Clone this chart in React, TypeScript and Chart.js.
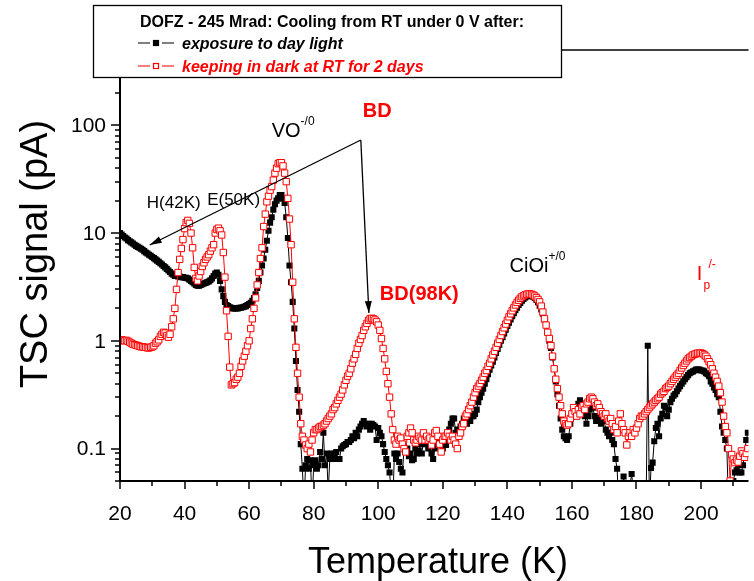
import React, { useEffect, useRef } from "react";
import { Chart, registerables } from "chart.js";

Chart.register(...registerables);

// ---- data: [temperature K, TSC signal pA] ----
const exposureDayLight: [number, number][] = [
  [20,10.0],[20.5,9.7],[21,9.4],[21.5,9.1],[22,8.9],[22.5,8.6],[23,8.4],[23.5,8.2],[24,8.0],[24.5,7.8],
  [25,7.6],[25.5,7.45],[26,7.3],[26.5,7.15],[27,7.0],[27.5,6.8],[28,6.6],[28.5,6.45],[29,6.3],[29.5,6.15],
  [30,6.0],[30.5,5.85],[31,5.7],[31.5,5.55],[32,5.4],[32.5,5.25],[33,5.1],[33.5,4.95],[34,4.8],[34.5,4.65],
  [35,4.5],[35.5,4.35],[36,4.2],[36.5,4.1],[37,4.0],[37.5,4.0],[38,3.95],[38.5,3.95],[39,3.9],[39.5,3.9],
  [40,3.85],[40.5,3.85],[41,3.8],[41.5,3.7],[42,3.6],[42.5,3.5],[43,3.4],[43.5,3.3],[44,3.25],[44.5,3.25],
  [45,3.3],[45.5,3.35],[46,3.4],[46.5,3.45],[47,3.5],[47.5,3.55],[48,3.65],[48.5,3.8],[49,4.0],[49.5,4.2],
  [50,4.3],[50.5,4.1],[51,3.6],[51.5,3.0],[52,2.6],[52.5,2.3],[53,2.15],[53.5,2.1],[54,2.05],[54.5,2.02],
  [55,2.0],[55.5,2.0],[56,2.0],[56.5,2.0],[57,2.02],[57.5,2.03],[58,2.05],[58.5,2.07],[59,2.1],[59.5,2.15],
  [60,2.2],[60.5,2.25],[61,2.35],[61.5,2.5],[62,2.7],[62.5,3.1],[63,3.6],[63.5,4.3],[64,5.0],[64.5,5.8],
  [65,7.0],[65.5,8.5],[66,10.5],[66.5,12.5],[67,14],[67.5,16.5],[68,18.5],[68.5,20],[69,21],[69.5,22.5],
  [70,22.5],[70.5,21],[71,19],[71.5,14],[72,9],[72.5,5],[73,3.5],[73.5,2.3],[74,1.3],[74.5,0.65],
  [75,0.35],[75.5,0.22],[76,0.11],[76.5,0.065],[77,0.03],[77.5,0.07],[78,0.08],[78.5,0.065],[79,0.078],[79.5,0.03],
  [80,0.07],[80.5,0.078],[81,0.065],[81.5,0.07],[82,0.093],[82.5,0.08],[83,0.14],[83.5,0.07],[84,0.09],[84.5,0.04],
  [85,0.08],[85.5,0.09],[86,0.08],[86.5,0.09],[87,0.093],[87.5,0.08],[88,0.08],[88.5,0.1],[89,0.105],[89.5,0.108],
  [90,0.11],[90.5,0.115],[91,0.115],[91.5,0.12],[92,0.13],[92.5,0.125],[93,0.14],[93.5,0.13],[94,0.15],[94.5,0.16],
  [95,0.17],[95.5,0.18],[96,0.17],[96.5,0.16],[97,0.17],[97.5,0.15],[98,0.17],[98.5,0.165],[99,0.16],[99.5,0.12],
  [100,0.155],[100.5,0.14],[101,0.13],[101.5,0.11],[102,0.093],[102.5,0.08],[103,0.07],[103.5,0.06],[104,0.04],[104.5,0.03],
  [105,0.09],[105.5,0.08],[106,0.09],[106.5,0.075],[107,0.065],[107.5,0.06],[108,0.1],[108.5,0.095],[109,0.1],[109.5,0.085],
  [110,0.09],[110.5,0.078],[111,0.08],[111.5,0.1],[112,0.09],[112.5,0.095],[113,0.11],[113.5,0.09],[114,0.12],[114.5,0.11],
  [115,0.12],[115.5,0.1],[116,0.11],[116.5,0.09],[117,0.08],[117.5,0.1],[118,0.12],[118.5,0.13],[119,0.12],[119.5,0.11],
  [120,0.1],[120.5,0.115],[121,0.108],[121.5,0.13],[122,0.15],[122.5,0.17],[123,0.19],[123.5,0.19],[124,0.14],[124.5,0.15],
  [125,0.147],[125.5,0.16],[126,0.17],[126.5,0.19],[127,0.17],[127.5,0.17],[128,0.2],[128.5,0.18],[129,0.2],[129.5,0.2],
  [130,0.21],[130.5,0.23],[131,0.27],[131.5,0.3],[132,0.33],[132.5,0.36],[133,0.4],[133.5,0.44],[134,0.49],[134.5,0.54],
  [135,0.59],[135.5,0.64],[136,0.7],[136.5,0.77],[137,0.84],[137.5,0.92],[138,1.0],[138.5,1.08],[139,1.17],[139.5,1.27],
  [140,1.37],[140.5,1.47],[141,1.58],[141.5,1.69],[142,1.8],[142.5,1.92],[143,2.03],[143.5,2.15],[144,2.25],[144.5,2.35],
  [145,2.44],[145.5,2.52],[146,2.58],[146.5,2.63],[147,2.65],[147.5,2.62],[148,2.57],[148.5,2.5],[149,2.4],[149.5,2.28],
  [150,2.12],[150.5,1.95],[151,1.78],[151.5,1.58],[152,1.4],[152.5,1.2],[153,1.0],[153.5,0.86],[154,0.7],[154.5,0.55],
  [155,0.42],[155.5,0.32],[156,0.25],[156.5,0.19],[157,0.15],[157.5,0.13],[158,0.125],[158.5,0.12],[159,0.13],[159.5,0.17],
  [160,0.21],[160.5,0.2],[161,0.23],[161.5,0.22],[162,0.26],[162.5,0.28],[163,0.25],[163.5,0.22],[164,0.2],[164.5,0.17],
  [165,0.2],[165.5,0.23],[166,0.25],[166.5,0.24],[167,0.2],[167.5,0.18],[168,0.19],[168.5,0.2],[169,0.17],[169.5,0.19],
  [170,0.18],[170.5,0.15],[171,0.14],[171.5,0.13],[172,0.14],[172.5,0.12],[173,0.11],[173.5,0.08],[174,0.065],[174.5,0.03],
  [175.5,0.03],[176,0.055],[177,0.03],[178.5,0.058],[179.5,0.03],[183,0.03],[183.5,0.9],[184,0.03],[184.5,0.066],[185,0.074],
  [185.5,0.117],[186,0.155],[186.5,0.17],[187,0.13],[187.5,0.19],[188,0.21],[188.5,0.25],[189,0.24],[189.5,0.2],[190,0.23],
  [190.5,0.27],[191,0.29],[191.5,0.31],[192,0.32],[192.5,0.34],[193,0.36],[193.5,0.38],[194,0.4],[194.5,0.42],[195,0.44],
  [195.5,0.46],[196,0.48],[196.5,0.5],[197,0.51],[197.5,0.52],[198,0.53],[198.5,0.54],[199,0.54],[199.5,0.54],[200,0.53],
  [200.5,0.53],[201,0.52],[201.5,0.5],[202,0.49],[202.5,0.47],[203,0.42],[203.5,0.4],[204,0.37],[204.5,0.35],[205,0.32],
  [205.5,0.3],[206,0.22],[206.5,0.16],[207,0.14],[207.5,0.12],[208,0.1],[208.5,0.03],[209,0.03],[210,0.05],[210.5,0.06],
  [211,0.063],[211.5,0.07],[212,0.06],[212.5,0.06],[213,0.07],[213.5,0.09],[214,0.12],[214.5,0.14],
];

const keepingDark: [number, number][] = [
  [20,1.0],[20.5,1.02],[21,1.01],[21.5,1.0],[22,1.01],[22.5,0.99],[23,0.97],[23.5,0.95],[24,0.93],[24.5,0.92],
  [25,0.91],[25.5,0.9],[26,0.89],[26.5,0.88],[27,0.88],[27.5,0.87],[28,0.87],[28.5,0.86],[29,0.86],[29.5,0.87],
  [30,0.88],[30.5,0.9],[31,0.95],[31.5,0.98],[32,1.02],[32.5,1.1],[33,1.15],[33.5,1.2],[34,1.18],[34.5,1.12],
  [35,1.08],[35.5,1.15],[36,1.35],[36.5,1.6],[37,2.0],[37.5,3.0],[38,4.3],[38.5,5.7],[39,7.2],[39.5,8.7],
  [40,11],[40.5,12.5],[41,13.1],[41.5,12.3],[42,10],[42.5,7.3],[43,4.8],[43.5,3.8],[44,3.6],[44.5,4.0],
  [45,4.4],[45.5,4.9],[46,5.3],[46.5,5.7],[47,6.0],[47.5,6.3],[48,6.8],[48.5,7.3],[49,7.8],[49.5,10],
  [50,10.8],[50.5,11.1],[51,10.5],[51.5,9.6],[52,6.6],[52.5,3.9],[53,1.9],[53.5,1.1],[54,0.57],[54.5,0.39],
  [55,0.4],[55.5,0.41],[56,0.44],[56.5,0.46],[57,0.5],[57.5,0.58],[58,0.65],[58.5,0.72],[59,0.8],[59.5,0.9],
  [60,1.0],[60.5,1.3],[61,1.6],[61.5,2.0],[62,2.5],[62.5,3.3],[63,4.3],[63.5,5.8],[64,7.3],[64.5,11.5],
  [65,15],[65.5,19.5],[66,22],[66.5,25],[67,27],[67.5,31],[68,36],[68.5,40],[69,44],[69.5,45],
  [70,45],[70.5,42],[71,36],[71.5,30],[72,21],[72.5,13.5],[73,7.8],[73.5,3.5],[74,1.6],[74.5,0.87],
  [75,0.5],[75.5,0.3],[76,0.17],[76.5,0.13],[77,0.12],[77.5,0.108],[78,0.1],[78.5,0.11],[79,0.093],[79.5,0.12],
  [80,0.14],[80.5,0.15],[81,0.15],[81.5,0.155],[82,0.16],[82.5,0.16],[83,0.165],[83.5,0.17],[84,0.18],[84.5,0.19],
  [85,0.2],[85.5,0.21],[86,0.23],[86.5,0.24],[87,0.26],[87.5,0.28],[88,0.3],[88.5,0.32],[89,0.35],[89.5,0.39],
  [90,0.43],[90.5,0.47],[91,0.5],[91.5,0.55],[92,0.62],[92.5,0.68],[93,0.75],[93.5,0.85],[94,0.95],[94.5,1.03],
  [95,1.12],[95.5,1.25],[96,1.35],[96.5,1.45],[97,1.55],[97.5,1.6],[98,1.62],[98.5,1.6],[99,1.56],[99.5,1.5],
  [100,1.4],[100.5,1.25],[101,1.05],[101.5,0.85],[102,0.68],[102.5,0.52],[103,0.4],[103.5,0.3],[104,0.21],[104.5,0.15],
  [105,0.12],[105.5,0.11],[106,0.13],[106.5,0.12],[107,0.125],[107.5,0.11],[108,0.1],[108.5,0.093],[109,0.13],[109.5,0.14],
  [110,0.155],[110.5,0.14],[111,0.12],[111.5,0.113],[112,0.12],[112.5,0.13],[113,0.125],[113.5,0.12],[114,0.14],[114.5,0.12],
  [115,0.13],[115.5,0.12],[116,0.125],[116.5,0.108],[117,0.12],[117.5,0.14],[118,0.147],[118.5,0.13],[119,0.11],[119.5,0.093],
  [120,0.12],[120.5,0.13],[121,0.13],[121.5,0.14],[122,0.13],[122.5,0.12],[123,0.13],[123.5,0.12],[124,0.11],[124.5,0.1],
  [125,0.13],[125.5,0.14],[126,0.16],[126.5,0.17],[127,0.2],[127.5,0.21],[128,0.23],[128.5,0.25],[129,0.27],[129.5,0.3],
  [130,0.33],[130.5,0.36],[131,0.38],[131.5,0.4],[132,0.43],[132.5,0.46],[133,0.5],[133.5,0.53],[134,0.58],[134.5,0.62],
  [135,0.68],[135.5,0.74],[136,0.8],[136.5,0.87],[137,0.95],[137.5,1.03],[138,1.12],[138.5,1.22],[139,1.32],[139.5,1.43],
  [140,1.55],[140.5,1.67],[141,1.78],[141.5,1.9],[142,2.02],[142.5,2.15],[143,2.27],[143.5,2.38],[144,2.48],[144.5,2.56],
  [145,2.62],[145.5,2.67],[146,2.7],[146.5,2.72],[147,2.72],[147.5,2.7],[148,2.66],[148.5,2.6],[149,2.52],[149.5,2.42],
  [150,2.3],[150.5,2.1],[151,1.85],[151.5,1.6],[152,1.4],[152.5,1.2],[153,1.05],[153.5,0.9],[154,0.72],[154.5,0.55],
  [155,0.44],[155.5,0.36],[156,0.3],[156.5,0.25],[157,0.21],[157.5,0.18],[158,0.17],[158.5,0.165],[159,0.17],[159.5,0.19],
  [160,0.21],[160.5,0.24],[161,0.22],[161.5,0.2],[162,0.23],[162.5,0.21],[163,0.24],[163.5,0.25],[164,0.23],[164.5,0.26],
  [165,0.27],[165.5,0.29],[166,0.3],[166.5,0.29],[167,0.27],[167.5,0.25],[168,0.26],[168.5,0.24],[169,0.22],[169.5,0.21],
  [170,0.2],[170.5,0.21],[171,0.19],[171.5,0.18],[172,0.19],[172.5,0.17],[173,0.15],[173.5,0.16],[174,0.14],[174.5,0.18],
  [175,0.21],[175.5,0.17],[176,0.15],[176.5,0.14],[177,0.108],[177.5,0.13],[178,0.14],[178.5,0.13],[179,0.15],[179.5,0.14],
  [180,0.155],[180.5,0.17],[181,0.19],[181.5,0.2],[182,0.2],[182.5,0.21],[183,0.22],[183.5,0.23],[184,0.24],[184.5,0.25],
  [185,0.26],[185.5,0.27],[186,0.28],[186.5,0.29],[187,0.3],[187.5,0.32],[188,0.33],[188.5,0.34],[189,0.36],[189.5,0.37],
  [190,0.38],[190.5,0.4],[191,0.42],[191.5,0.44],[192,0.46],[192.5,0.48],[193,0.5],[193.5,0.53],[194,0.56],[194.5,0.59],
  [195,0.62],[195.5,0.65],[196,0.68],[196.5,0.7],[197,0.72],[197.5,0.74],[198,0.75],[198.5,0.76],[199,0.77],[199.5,0.77],
  [200,0.77],[200.5,0.76],[201,0.74],[201.5,0.72],[202,0.68],[202.5,0.64],[203,0.6],[203.5,0.55],[204,0.5],[204.5,0.46],
  [205,0.42],[205.5,0.38],[206,0.33],[206.5,0.27],[207,0.2],[207.5,0.16],[208,0.14],[208.5,0.1],[209,0.05],[209.5,0.088],
  [210,0.08],[210.5,0.074],[211,0.078],[211.5,0.075],[212,0.085],[212.5,0.095],[213,0.09],[213.5,0.083],[214,0.09],[214.5,0.1],
];

const xMajorTicks = [20, 40, 60, 80, 100, 120, 140, 160, 180, 200];
const xMinorTicks = [30, 50, 70, 90, 110, 130, 150, 170, 190, 210];
const yMajorTicks = [0.1, 1, 10, 100];
const yMajorLabels = ["0.1", "1", "10", "100"];
const yMinorTicks = [
  0.05, 0.06, 0.07, 0.08, 0.09, 0.2, 0.3, 0.4, 0.5, 0.6, 0.7, 0.8, 0.9,
  2, 3, 4, 5, 6, 7, 8, 9, 20, 30, 40, 50, 60, 70, 80, 90, 200, 300, 400,
];

const legendTitle = "DOFZ - 245 Mrad: Cooling from RT under 0 V after:";
const seriesNames = ["exposure to day light", "keeping in dark at RT for 2 days"];

// annotation labels anchored at (temperature, signal)
const annotations = [
  { text: "H(42K)", t: 28.3, v: 17.1, size: 17, bold: false, color: "#000", sup: "", sub: "" },
  { text: "E(50K)", t: 47.0, v: 18.2, size: 17, bold: false, color: "#000", sup: "", sub: "" },
  { text: "VO", t: 67.0, v: 78, size: 20, bold: false, color: "#000", sup: "-/0", sub: "" },
  { text: "BD", t: 95.2, v: 119, size: 20, bold: true, color: "#ff0000", sup: "", sub: "" },
  { text: "BD(98K)", t: 100.5, v: 2.39, size: 20, bold: true, color: "#ff0000", sup: "", sub: "" },
  { text: "CiOi", t: 140.7, v: 4.35, size: 20, bold: false, color: "#000", sup: "+/0", sub: "" },
  { text: "I", t: 198.7, v: 3.67, size: 20, bold: false, color: "#ff0000", sup: "/-", sub: "p" },
];
const arrowApex = { t: 94.6, v: 73 };
const arrowTips = [
  { t: 29.2, v: 7.75 },
  { t: 97.1, v: 1.81 },
];

const FONT = '"Liberation Sans", Arial, Helvetica, sans-serif';

function arrow(ctx: CanvasRenderingContext2D, x0: number, y0: number, x1: number, y1: number) {
  ctx.beginPath();
  ctx.moveTo(x0, y0);
  ctx.lineTo(x1, y1);
  ctx.stroke();
  const a = Math.atan2(y1 - y0, x1 - x0);
  const L = 12, W = 3.5;
  ctx.beginPath();
  ctx.moveTo(x1, y1);
  ctx.lineTo(x1 - L * Math.cos(a) + W * Math.sin(a), y1 - L * Math.sin(a) - W * Math.cos(a));
  ctx.lineTo(x1 - L * Math.cos(a) - W * Math.sin(a), y1 - L * Math.sin(a) + W * Math.cos(a));
  ctx.closePath();
  ctx.fill();
}

const overlayPlugin = {
  id: "overlay",
  afterDraw(chart: any) {
    const ctx: CanvasRenderingContext2D = chart.ctx;
    const { left, right, top, bottom } = chart.chartArea;
    const xs = chart.scales.x;
    const ys = chart.scales.y;
    ctx.save();
    ctx.strokeStyle = "#000";
    ctx.fillStyle = "#000";

    // axes
    ctx.lineWidth = 2;
    ctx.beginPath();
    ctx.moveTo(left, top);
    ctx.lineTo(left, bottom);
    ctx.lineTo(right, bottom);
    ctx.stroke();
    ctx.lineWidth = 1.5;
    ctx.beginPath();
    ctx.moveTo(left, top);
    ctx.lineTo(right, top);
    ctx.stroke();

    // ticks
    ctx.lineWidth = 1.5;
    ctx.beginPath();
    xMajorTicks.forEach((t) => {
      const x = Math.round(xs.getPixelForValue(t));
      ctx.moveTo(x, bottom);
      ctx.lineTo(x, bottom + 8);
    });
    xMinorTicks.forEach((t) => {
      const x = Math.round(xs.getPixelForValue(t));
      ctx.moveTo(x, bottom);
      ctx.lineTo(x, bottom + 5);
    });
    yMajorTicks.forEach((v) => {
      const y = Math.round(ys.getPixelForValue(v));
      ctx.moveTo(left - 9, y);
      ctx.lineTo(left, y);
    });
    yMinorTicks.forEach((v) => {
      const y = Math.round(ys.getPixelForValue(v));
      ctx.moveTo(left - 5, y);
      ctx.lineTo(left, y);
    });
    ctx.stroke();

    // tick labels
    ctx.font = `21px ${FONT}`;
    ctx.textAlign = "center";
    ctx.textBaseline = "alphabetic";
    xMajorTicks.forEach((t) => {
      ctx.fillText(String(t), xs.getPixelForValue(t), bottom + 39);
    });
    ctx.textAlign = "right";
    ctx.textBaseline = "middle";
    yMajorTicks.forEach((v, i) => {
      ctx.fillText(yMajorLabels[i], left - 14, ys.getPixelForValue(v) + 1);
    });

    // axis titles
    ctx.font = `36px ${FONT}`;
    ctx.textAlign = "center";
    ctx.textBaseline = "alphabetic";
    ctx.fillText("Temperature (K)", 438, 573);
    ctx.save();
    ctx.translate(47, 254);
    ctx.rotate(-Math.PI / 2);
    ctx.font = `38px ${FONT}`;
    ctx.fillText("TSC signal (pA)", 0, 0);
    ctx.restore();

    // annotations
    ctx.textAlign = "left";
    ctx.textBaseline = "alphabetic";
    annotations.forEach((a) => {
      const x = xs.getPixelForValue(a.t);
      const y = ys.getPixelForValue(a.v);
      ctx.fillStyle = a.color;
      ctx.font = `${a.bold ? "bold " : ""}${a.size}px ${FONT}`;
      ctx.fillText(a.text, x, y);
      const w = ctx.measureText(a.text).width;
      ctx.font = `${a.bold ? "bold " : ""}12px ${FONT}`;
      if (a.sub) ctx.fillText(a.sub, x + w + 1, y + 9);
      if (a.sup) ctx.fillText(a.sup, x + w + (a.sub ? 6 : 0), y - 12);
    });

    // arrows
    ctx.fillStyle = "#000";
    ctx.strokeStyle = "#000";
    ctx.lineWidth = 1.3;
    const ax = xs.getPixelForValue(arrowApex.t);
    const ay = ys.getPixelForValue(arrowApex.v);
    arrowTips.forEach((p) => {
      arrow(ctx, ax, ay, xs.getPixelForValue(p.t), ys.getPixelForValue(p.v));
    });

    // legend box
    ctx.fillStyle = "#fff";
    ctx.fillRect(93, 5, 469, 73);
    ctx.strokeStyle = "#000";
    ctx.lineWidth = 1.3;
    ctx.strokeRect(93.5, 5.5, 468, 72);
    ctx.fillStyle = "#000";
    ctx.font = `bold 16px ${FONT}`;
    ctx.textAlign = "left";
    ctx.fillText(legendTitle, 140, 27);
    const rows = [
      { color: "#000", fill: "#000", y: 49 },
      { color: "#ff0000", fill: "#fff", y: 72 },
    ];
    rows.forEach((r, i) => {
      const my = r.y - 6;
      ctx.strokeStyle = r.color;
      ctx.lineWidth = 1.2;
      ctx.beginPath();
      ctx.moveTo(138, my);
      ctx.lineTo(150, my);
      ctx.moveTo(162, my);
      ctx.lineTo(174, my);
      ctx.stroke();
      ctx.fillStyle = r.fill;
      ctx.fillRect(153, my - 3, 6, 6);
      ctx.strokeRect(153.5, my - 2.5, 5, 5);
      ctx.fillStyle = r.color;
      ctx.font = `italic bold 16px ${FONT}`;
      ctx.fillText(seriesNames[i], 182, r.y);
    });
    ctx.restore();
  },
};

export default function App() {
  const canvasRef = useRef<HTMLCanvasElement | null>(null);
  useEffect(() => {
    if (!canvasRef.current) return;
    const chart = new Chart(canvasRef.current, {
      type: "line",
      data: {
        datasets: [
          {
            label: seriesNames[1],
            data: keepingDark.map(([x, y]) => ({ x, y })),
            borderColor: "#ff0000",
            borderWidth: 1,
            pointStyle: "rect",
            pointRadius: 4.5,
            pointBackgroundColor: "#ffffff",
            pointBorderColor: "#ff0000",
            pointBorderWidth: 1,
            tension: 0,
            clip: 0,
          } as any,
          {
            label: seriesNames[0],
            data: exposureDayLight.map(([x, y]) => ({ x, y })),
            borderColor: "#000000",
            borderWidth: 1,
            pointStyle: "rect",
            pointRadius: 4.3,
            pointBackgroundColor: "#000000",
            pointBorderColor: "#000000",
            pointBorderWidth: 0,
            tension: 0,
            clip: 0,
          } as any,
        ],
      },
      options: {
        animation: false,
        responsive: true,
        maintainAspectRatio: false,
        layout: { padding: { left: 120, top: 50, right: 0, bottom: 100 } },
        scales: {
          x: { type: "linear", min: 20, max: 214.7, display: false },
          y: { type: "logarithmic", min: 0.05, max: 500, display: false },
        },
        plugins: { legend: { display: false }, tooltip: { enabled: false } },
        events: [],
      },
      plugins: [overlayPlugin],
    });
    return () => chart.destroy();
  }, []);
  return (
    <div style={{ position: "absolute", left: 0, top: 0, width: 754, height: 581, background: "#fff" }}>
      <canvas ref={canvasRef} />
    </div>
  );
}
